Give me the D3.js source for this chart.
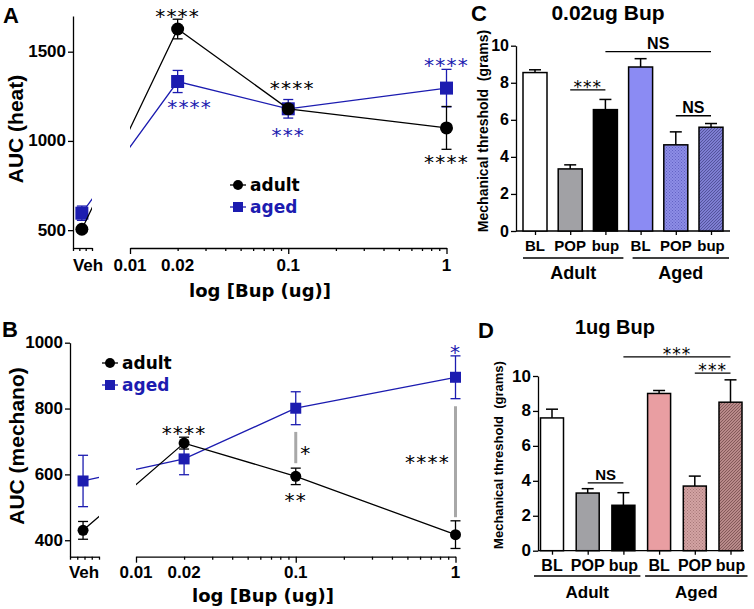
<!DOCTYPE html>
<html><head><meta charset="utf-8">
<script src="https://cdn.jsdelivr.net/npm/d3@7"></script>
<style>body{margin:0;background:#fff}svg{display:block}</style>
</head><body><svg id="c" width="754" height="609"></svg>
<script>
// ---------- data ----------
const doses = ["Veh", 0.02, 0.1, 1];
const heatAdult = [505, 1627, 1180, 1073];
const heatAdultErr = [15, 55, 20, 120];
const heatAged = [595, 1333, 1180, 1296];
const heatAgedErr = [40, 62, 52, 105];
const mechAdult = [430, 695, 594, 417];
const mechAdultErr = [27, 18, 25, 42];
const mechAged = [580, 647, 801, 895];
const mechAgedErr = [78, 48, 50, 65];
const logTickLabels = [0.01, 0.02, 0.1, 1];
const heatYTicks = [500, 1000, 1500];
const mechYTicks = [400, 600, 800, 1000];
const seriesNames = ["adult", "aged"];
const barCats = ["BL", "POP", "bup", "BL", "POP", "bup"];
const barGroups = ["Adult", "Aged"];
const bup002Mean = [8.55, 3.35, 6.55, 8.85, 4.65, 5.6];
const bup002Err = [0.15, 0.22, 0.55, 0.45, 0.7, 0.2];
const bup1Mean = [7.6, 3.3, 2.6, 9.0, 3.7, 8.5];
const bup1Err = [0.5, 0.25, 0.72, 0.17, 0.57, 1.28];
const barYTicks = [0, 2, 4, 6, 8, 10];

// ---------- setup ----------
const W = 754, H = 609;
const ARIAL = "'Liberation Sans', Arial, sans-serif";
const DJV = "'DejaVu Sans', Verdana, sans-serif";
const BLUE = "#1c1cb0";
const svg = d3.select("#c");
svg.append("rect").attr("width", W).attr("height", H).attr("fill", "#fff");
const defs = svg.append("defs");

function hatch(id, base, ink, type) {
  const p = defs.append("pattern").attr("id", id).attr("patternUnits", "userSpaceOnUse")
    .attr("width", 3).attr("height", 3);
  p.append("rect").attr("width", 3).attr("height", 3).attr("fill", base);
  if (type === "cross") {
    p.append("rect").attr("width", 1).attr("height", 1).attr("fill", ink);
    p.append("rect").attr("x", 1.5).attr("y", 1.5).attr("width", 1).attr("height", 1).attr("fill", ink);
  } else {
    p.append("path").attr("d", "M-1,1L1,-1M0,3L3,0M2,4L4,2").attr("stroke", ink).attr("stroke-width", 0.9);
  }
}
hatch("pC2", "#8d8de6", "#6262c4", "cross");
hatch("pC3", "#7e7ed2", "#4f4f96", "diag");
hatch("pD2", "#d3a3a3", "#a67878", "cross");
hatch("pD3", "#b88a8a", "#7d5555", "diag");

function txt(x, y, s, o) {
  return svg.append("text").attr("x", x).attr("y", y).text(s)
    .attr("font-family", o.font || ARIAL).attr("font-weight", o.weight || "bold")
    .attr("font-size", o.size).attr("fill", o.fill || "#000")
    .attr("text-anchor", o.anchor || "middle")
    .attr("dominant-baseline", o.base || "central")
    .attr("letter-spacing", o.ls || 0);
}
function stars(x, yc, n, color, size) {
  const fs = size || 20;
  svg.append("text").attr("x", x).attr("y", yc + fs * 0.58).text("*".repeat(n))
    .attr("font-family", DJV).attr("font-size", fs).attr("fill", color)
    .attr("text-anchor", "middle").attr("letter-spacing", fs * 0.06);
}
function styleAxis(g) {
  g.selectAll("path,line").attr("stroke", "#000").attr("stroke-width", 1.3);
  g.selectAll("text").remove();
}

// ---------- line panels ----------
function linePanel(cfg) {
  const ys = d3.scaleLinear().domain(cfg.yDomain).range(cfg.yRange);
  const xs = d3.scaleLog().domain([0.01, 1]).range(cfg.xRange);
  const vs = d3.scaleLinear().domain([0, cfg.vehTicks - 1]).range([cfg.axisX, cfg.vehEnd]);
  const px = i => i === 0 ? vs(cfg.vehPos) : xs(doses[i]);
  const yB = cfg.yRange[0];

  const ya = svg.append("g").attr("transform", `translate(${cfg.axisX},0)`)
    .call(d3.axisLeft(ys).tickValues(cfg.yTicks).tickSize(5).tickSizeOuter(0));
  styleAxis(ya);
  cfg.yTicks.forEach(t => txt(cfg.axisX - 7, ys(t), t, { size: 17, anchor: "end" }));

  const va = svg.append("g").attr("transform", `translate(0,${yB})`)
    .call(d3.axisBottom(vs).tickValues(d3.range(cfg.vehTicks)).tickSize(3).tickSizeOuter(0).tickFormat(""));
  styleAxis(va);
  txt(cfg.vehLabelX, cfg.tickLabelY, "Veh", { size: 17 });

  const allTicks = [];
  for (let e = -2; e < 0; e++) for (let m = 1; m < 10; m++) allTicks.push(m * Math.pow(10, e));
  allTicks.push(1);
  const isMajor = d => [0.01, 0.1, 1].some(v => Math.abs(v - d) < 1e-9);
  const xa = svg.append("g").attr("transform", `translate(0,${yB})`)
    .call(d3.axisBottom(xs).tickValues(allTicks).tickSizeOuter(0).tickFormat(""));
  styleAxis(xa);
  xa.selectAll(".tick line").attr("y2", d => isMajor(d) ? 6 : 3);
  logTickLabels.forEach(t => txt(xs(t), cfg.tickLabelY, t, { size: 17 }));

  txt(cfg.titleX, cfg.titleY, "log [Bup (ug)]", { size: 18, font: DJV });
  txt(0, 0, cfg.yTitle, { size: 21 })
    .attr("transform", `translate(${cfg.yTitleX},${cfg.yTitleY}) rotate(-90)`).attr("x", 0).attr("y", 0);
  txt(cfg.letterX, cfg.letterY, cfg.letter, { size: 22, anchor: "start", base: "auto" });

  const cid = "clip" + cfg.letter;
  const cp = defs.append("clipPath").attr("id", cid);
  cp.append("rect").attr("x", cfg.axisX).attr("y", 0).attr("width", cfg.vehEnd - cfg.axisX).attr("height", H);
  cp.append("rect").attr("x", cfg.xRange[0]).attr("y", 0).attr("width", cfg.xRange[1] - cfg.xRange[0] + 20).attr("height", H);

  const series = [
    { name: "aged", mean: cfg.aged, err: cfg.agedErr, color: BLUE, shape: "sq" },
    { name: "adult", mean: cfg.adult, err: cfg.adultErr, color: "#000", shape: "ci" }
  ];
  series.forEach(s => {
    const g = svg.append("g");
    s.mean.forEach((m, i) => {
      const x = px(i);
      g.append("line").attr("x1", x).attr("x2", x).attr("y1", ys(m - s.err[i])).attr("y2", ys(m + s.err[i]))
        .attr("stroke", s.color).attr("stroke-width", 1.3);
      [m - s.err[i], m + s.err[i]].forEach(v => g.append("line").attr("x1", x - 5).attr("x2", x + 5)
        .attr("y1", ys(v)).attr("y2", ys(v)).attr("stroke", s.color).attr("stroke-width", 1.3));
    });
    const line = d3.line().x((d, i) => px(i)).y(d => ys(d));
    g.append("path").attr("d", line(s.mean)).attr("fill", "none").attr("stroke", s.color)
      .attr("stroke-width", 1.3).attr("clip-path", `url(#${cid})`);
    s.mean.forEach((m, i) => {
      if (s.shape === "ci") g.append("circle").attr("cx", px(i)).attr("cy", ys(m)).attr("r", cfg.r).attr("fill", s.color);
      else g.append("rect").attr("x", px(i) - cfg.sq / 2).attr("y", ys(m) - cfg.sq / 2)
        .attr("width", cfg.sq).attr("height", cfg.sq).attr("fill", s.color);
    });
  });

  [["adult", "#000", "ci"], ["aged", BLUE, "sq"]].forEach((l, k) => {
    const y = cfg.legY + k * cfg.legDy, x = cfg.legX;
    svg.append("line").attr("x1", x - 8).attr("x2", x + 8).attr("y1", y).attr("y2", y).attr("stroke", l[1]).attr("stroke-width", 1.3);
    if (l[2] === "ci") svg.append("circle").attr("cx", x).attr("cy", y).attr("r", 5).attr("fill", l[1]);
    else svg.append("rect").attr("x", x - 5).attr("y", y - 5).attr("width", 10).attr("height", 10).attr("fill", l[1]);
    txt(x + 12, y, l[0], { size: 17, font: DJV, anchor: "start", fill: l[1] });
  });

  cfg.notes.forEach(n => stars(xs(n.d) + (n.dx || 0), ys(n.v), n.n, n.c === "b" ? BLUE : "#000"));
  (cfg.bars || []).forEach(b => svg.append("line").attr("x1", xs(b.d)).attr("x2", xs(b.d))
    .attr("y1", ys(b.v0)).attr("y2", ys(b.v1)).attr("stroke", "#a8a8a8").attr("stroke-width", 3));
}

linePanel({
  letter: "A", letterX: 3, letterY: 23,
  yDomain: [400, 1700], yRange: [248, 16], yTicks: heatYTicks,
  axisX: 73, vehEnd: 92, vehTicks: 4, vehPos: 1.4, vehLabelX: 88,
  xRange: [130, 446.5], tickLabelY: 265, titleX: 260, titleY: 290,
  yTitle: "AUC (heat)", yTitleX: 15, yTitleY: 129,
  adult: heatAdult, adultErr: heatAdultErr, aged: heatAged, agedErr: heatAgedErr,
  r: 6.5, sq: 13, legX: 238, legY: 185, legDy: 22,
  notes: [
    { d: 0.02, v: 1728, n: 4, c: "k" }, { d: 0.02, dx: 12, v: 1218, n: 4, c: "b" },
    { d: 0.1, dx: 4, v: 1325, n: 4, c: "k" }, { d: 0.1, v: 1061, n: 3, c: "b" },
    { d: 1, v: 1453, n: 4, c: "b" }, { d: 1, v: 910, n: 4, c: "k" }
  ]
});
linePanel({
  letter: "B", letterX: 2, letterY: 337,
  yDomain: [350, 1000], yRange: [556.7, 342.7], yTicks: mechYTicks,
  axisX: 70, vehEnd: 99, vehTicks: 5, vehPos: 1.8, vehLabelX: 84,
  xRange: [136, 455.5], tickLabelY: 572, titleX: 263, titleY: 595,
  yTitle: "AUC (mechano)", yTitleX: 16, yTitleY: 446,
  adult: mechAdult, adultErr: mechAdultErr, aged: mechAged, agedErr: mechAgedErr,
  r: 5.5, sq: 11, legX: 110, legY: 363, legDy: 22,
  notes: [
    { d: 0.02, v: 741, n: 4, c: "k" }, { d: 0.1, dx: 10, v: 680, n: 1, c: "k" },
    { d: 0.1, v: 537, n: 2, c: "k" }, { d: 1, dx: -28, v: 653, n: 4, c: "k" },
    { d: 1, v: 987, n: 1, c: "b" }
  ],
  bars: [{ d: 0.1, v0: 729, v1: 634 }, { d: 1, v0: 807, v1: 470 }]
});

// ---------- bar panels ----------
function barPanel(cfg) {
  const ys = d3.scaleLinear().domain([0, 10]).range([cfg.y0, cfg.y10]);
  const bx = d3.scalePoint().domain(d3.range(barCats.length)).range(cfg.cRange);
  const ya = svg.append("g").attr("transform", `translate(${cfg.axisX},0)`)
    .call(d3.axisLeft(ys).tickValues(barYTicks).tickSize(5).tickSizeOuter(0));
  styleAxis(ya);
  barYTicks.forEach(t => txt(cfg.axisX - 7, ys(t), t, { size: cfg.tickSize, anchor: "end" }));
  const xa = svg.append("g").attr("transform", `translate(0,${cfg.y0})`)
    .call(d3.axisBottom(bx).tickSize(4).tickSizeOuter(0).tickFormat(""));
  styleAxis(xa);
  xa.select(".domain").remove();
  svg.append("line").attr("x1", cfg.axisX).attr("x2", cfg.xEnd).attr("y1", cfg.y0).attr("y2", cfg.y0)
    .attr("stroke", "#000").attr("stroke-width", 1.3);

  cfg.mean.forEach((m, i) => {
    const x = bx(i), top = ys(m + cfg.err[i]);
    svg.append("line").attr("x1", x).attr("x2", x).attr("y1", ys(m)).attr("y2", top).attr("stroke", "#000").attr("stroke-width", 1.5);
    svg.append("line").attr("x1", x - 6).attr("x2", x + 6).attr("y1", top).attr("y2", top).attr("stroke", "#000").attr("stroke-width", 1.5);
    svg.append("rect").attr("x", x - cfg.bw / 2).attr("y", ys(m)).attr("width", cfg.bw).attr("height", cfg.y0 - ys(m))
      .attr("fill", cfg.fills[i]).attr("stroke", "#000").attr("stroke-width", 1.5);
    txt(x, cfg.catY, barCats[i], { size: cfg.catSize });
  });
  barGroups.forEach((gname, k) => {
    const a = bx(k * 3) - cfg.gPadL, b = bx(k * 3 + 2) + cfg.gPadR;
    const sh = k === 1 ? cfg.gShift : 0;
    svg.append("line").attr("x1", a + sh).attr("x2", b).attr("y1", cfg.gLineY).attr("y2", cfg.gLineY).attr("stroke", "#000").attr("stroke-width", 1.3);
    txt((a + sh + b) / 2, cfg.gLabY, gname, { size: cfg.gSize });
  });
  cfg.sig.forEach(s => {
    const y = ys(s.v);
    svg.append("line").attr("x1", bx(s.a)).attr("x2", bx(s.b)).attr("y1", y).attr("y2", y).attr("stroke", "#000").attr("stroke-width", 1.3);
    if (s.t === "NS") txt((bx(s.a) + bx(s.b)) / 2, y - 3, "NS", { size: cfg.nsSize, base: "auto" });
    else stars((bx(s.a) + bx(s.b)) / 2, y - 7, s.t.length, "#000", 17);
  });
  txt(0, 0, "Mechanical threshold\u00a0 (grams)", { size: cfg.ytSize })
    .attr("transform", `translate(${cfg.ytX},${cfg.ytY}) rotate(-90)`).attr("x", 0).attr("y", 0);
  txt(cfg.titleX, cfg.titleY, cfg.title, { size: cfg.titleSize, base: "auto" });
  txt(cfg.letterX, cfg.letterY, cfg.letter, { size: 22, anchor: "start", base: "auto" });
}

barPanel({
  letter: "C", letterX: 471, letterY: 21, title: "0.02ug Bup", titleX: 608, titleY: 20, titleSize: 21,
  axisX: 516, xEnd: 730, y0: 231, y10: 45.7, cRange: [535, 711], bw: 24, tickSize: 16,
  mean: bup002Mean, err: bup002Err,
  fills: ["#ffffff", "#a1a1a5", "#000000", "#8b8bf3", "url(#pC2)", "url(#pC3)"],
  catY: 245, catSize: 15, gLineY: 258, gLabY: 273, gSize: 18, gPadL: 12, gPadR: 18, gShift: 4,
  nsSize: 16, ytSize: 14, ytX: 483, ytY: 131,
  sig: [{ a: 1, b: 2, v: 7.62, t: "***" }, { a: 2, b: 5, v: 9.68, t: "NS" }, { a: 4, b: 5, v: 6.22, t: "NS" }]
});
barPanel({
  letter: "D", letterX: 478, letterY: 338, title: "1ug Bup", titleX: 615, titleY: 334, titleSize: 20,
  axisX: 538, xEnd: 744, y0: 550.7, y10: 376, cRange: [552, 730.5], bw: 23, tickSize: 17,
  mean: bup1Mean, err: bup1Err,
  fills: ["#ffffff", "#a1a1a5", "#000000", "#e99ea2", "url(#pD2)", "url(#pD3)"],
  catY: 565, catSize: 16, gLineY: 576, gLabY: 592, gSize: 17, gPadL: 18, gPadR: 17, gShift: 4,
  nsSize: 15, ytSize: 13, ytX: 498, ytY: 455,
  sig: [{ a: 1, b: 2, v: 3.88, t: "NS" }, { a: 2, b: 5, v: 11.09, t: "***" }, { a: 4, b: 5, v: 10.17, t: "***" }]
});
</script>
</body></html>
